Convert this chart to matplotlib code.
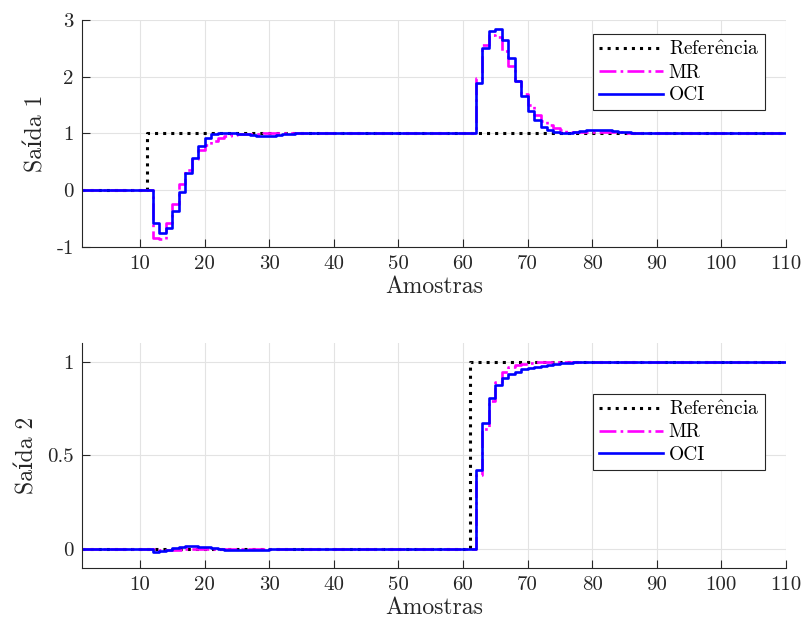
import matplotlib
matplotlib.use("Agg")
from matplotlib import pyplot as plt
import numpy as np

# samples
amostras = list(range(1, 111))

# references
ref1 = [0.0] * 10 + [1.0] * 100
ref2 = [0.0] * 60 + [1.0] * 50

# output 1 - OCI
y1_oci = ([0.0] * 11 +
          [-0.58, -0.76, -0.67, -0.37, -0.04, 0.30, 0.57, 0.78, 0.91, 0.98,
           1.01, 1.01, 1.00, 0.99, 0.98, 0.97, 0.96, 0.96, 0.96, 0.97,
           0.98, 0.99, 1.00, 1.00, 1.01, 1.01, 1.01, 1.01, 1.01] +
          [1.0] * 21 +
          [1.88, 2.50, 2.81, 2.84, 2.65, 2.32, 1.93, 1.65, 1.40, 1.24,
           1.11, 1.05, 1.02, 1.00, 1.01, 1.02, 1.04, 1.05, 1.06, 1.06,
           1.05, 1.04, 1.03, 1.02, 1.01, 1.00] +
          [1.0] * 23)

# output 1 - MR
y1_mr = ([0.0] * 11 +
         [-0.85, -0.86, -0.58, -0.25, 0.10, 0.36, 0.55, 0.70, 0.80, 0.87,
          0.92, 0.95, 0.97, 0.98, 0.99, 0.99, 0.99, 1.00, 1.00, 1.00,
          1.00, 1.00, 1.00, 1.00, 1.00, 1.00, 1.00, 1.00, 1.00] +
         [1.0] * 21 +
         [1.97, 2.56, 2.74, 2.70, 2.45, 2.18, 1.92, 1.70, 1.50, 1.33,
          1.22, 1.14, 1.09, 1.05, 1.03, 1.02, 1.02, 1.03, 1.03, 1.03,
          1.03, 1.02, 1.02, 1.01, 1.01, 1.00] +
         [1.0] * 23)

# output 2 - OCI
y2_oci = ([0.0] * 11 +
          [-0.014, -0.012, -0.005, 0.005, 0.012, 0.016, 0.016, 0.013, 0.008, 0.004,
           0.000, -0.003, -0.005, -0.006, -0.006, -0.005, -0.004, -0.003, -0.002, -0.001] +
          [0.0] * 30 +
          [0.42, 0.675, 0.81, 0.877, 0.913, 0.934, 0.948, 0.96, 0.968, 0.975,
           0.98, 0.985, 0.99, 0.993, 0.996, 0.998] +
          [1.0] * 33)

# output 2 - MR
y2_mr = ([0.0] * 11 +
         [-0.002, -0.004, -0.005, -0.004, -0.003, -0.002, -0.002, -0.002, -0.002, -0.001,
          -0.001, -0.001, -0.001, -0.001, -0.001, -0.001, 0.0, 0.0, 0.0, 0.0] +
         [0.0] * 30 +
         [0.396, 0.64, 0.79, 0.895, 0.948, 0.975, 0.985, 0.99, 0.995, 0.998,
          1.0, 1.0, 1.0, 1.0, 1.0, 1.0] +
         [1.0] * 33)

plt.rcParams['font.family'] = ['cmr10', 'DejaVu Serif']
plt.rcParams['axes.unicode_minus'] = False
plt.rcParams['mathtext.fontset'] = 'cm'

# circumflex via mathtext so it stays in Computer Modern
lbl_ref = r"Refer$\hat{\mathrm{e}}$ncia"

fig = plt.figure(figsize=(8.03, 6.3), dpi=100)
ax1 = fig.add_axes([0.1021, 0.6086, 0.8767, 0.3597])
ax2 = fig.add_axes([0.1021, 0.0989, 0.8767, 0.3562])

axis_col = "#262626"


def style(ax):
    ax.grid(True, color="#e3e3e3", linewidth=0.8)
    ax.set_axisbelow(True)
    ax.spines["top"].set_visible(False)
    ax.spines["right"].set_visible(False)
    for s in ["left", "bottom"]:
        ax.spines[s].set_color(axis_col)
        ax.spines[s].set_linewidth(0.8)
    ax.tick_params(direction="in", length=6, width=0.8, colors=axis_col,
                   labelsize=15, pad=6)
    ax.set_xlim(1, 110)
    ax.set_xticks(range(10, 111, 10))
    ax.set_xlabel("Amostras", fontsize=17, color=axis_col, labelpad=2)


# top: output 1
ax1.step(amostras, ref1, where="post", color="black", linestyle=":", linewidth=2.2, label=lbl_ref)
ax1.step(amostras, y1_mr, where="post", color="#ff00ff", linestyle="-.", linewidth=1.9, label="MR")
ax1.step(amostras, y1_oci, where="post", color="#0000ff", linestyle="-", linewidth=1.9, label="OCI")
style(ax1)
ax1.set_ylim(-1, 3)
ax1.set_yticks([-1, 0, 1, 2, 3])
ax1.set_ylabel("Saída 1", fontsize=17, color=axis_col, labelpad=6)

# bottom: output 2
ax2.step(amostras, ref2, where="post", color="black", linestyle=":", linewidth=2.2, label=lbl_ref)
ax2.step(amostras, y2_mr, where="post", color="#ff00ff", linestyle="-.", linewidth=1.9, label="MR")
ax2.step(amostras, y2_oci, where="post", color="#0000ff", linestyle="-", linewidth=1.9, label="OCI")
style(ax2)
ax2.set_ylim(-0.1, 1.1)
ax2.set_yticks([0, 0.5, 1])
ax2.set_yticklabels(["0", "0.5", "1"])
ax2.set_ylabel("Saída 2", fontsize=17, color=axis_col, labelpad=6)

for ax, top in [(ax1, 0.936), (ax2, 0.773)]:
    leg = ax.legend(loc="upper right", bbox_to_anchor=(0.970, top), fontsize=14,
                    fancybox=False, framealpha=1, edgecolor=axis_col,
                    handlelength=3.3, handletextpad=0.3, labelspacing=0.25,
                    borderpad=0.3, borderaxespad=0)
    leg.get_frame().set_linewidth(0.8)

fig.savefig("out.png", dpi=100)
